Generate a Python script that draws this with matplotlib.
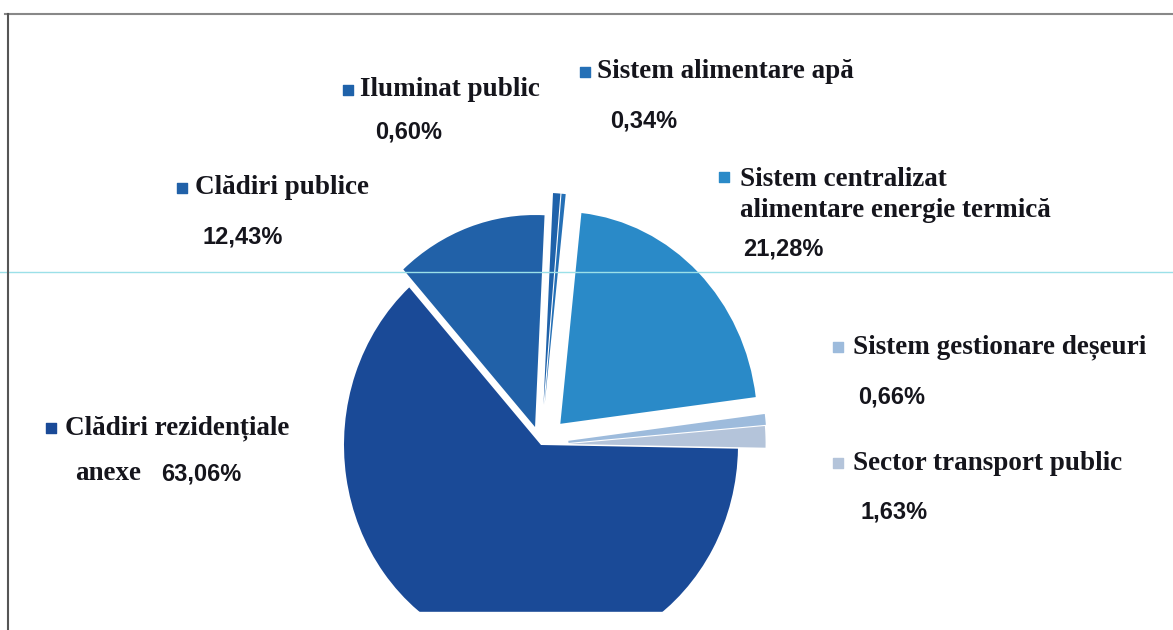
import matplotlib
matplotlib.use("Agg")
import matplotlib.pyplot as plt
from matplotlib.patches import Rectangle
from matplotlib.transforms import Affine2D

# slices in drawing order (counter-clockwise from 3 o'clock)
categories = ["Sector transport public", "Sistem gestionare deșeuri",
              "Sistem centralizat\nalimentare energie termică", "Sistem alimentare apă",
              "Iluminat public", "Clădiri publice", "Clădiri rezidențiale"]
values = [1.63, 0.66, 21.28, 0.34, 0.60, 12.43, 63.06]
colors = ["#b4c4da", "#9dbbdc", "#2a8ac8", "#2570b6", "#1f62aa", "#2161a8", "#1a4a97"]
explode = [0.14, 0.14, 0.14, 0.19, 0.19, 0.09, 0.0]

W, H = 1173, 630
fig = plt.figure(figsize=(W / 100, H / 100), dpi=100)
ax = fig.add_axes([0, 0, 1, 1])

wedges, _ = ax.pie(values, explode=explode, colors=colors, startangle=-1,
                   counterclock=True, radius=1, center=(0, 0),
                   wedgeprops=dict(linewidth=0))
# the scanned pie is a bit taller than wide
tr = Affine2D().scale(197, 212).translate(541, H - 445) + ax.transData
for w in wedges:
    w.set_transform(tr)
# close the hairline gap between the two thin slices on the right
wedges[1].set_edgecolor(colors[1])
wedges[1].set_linewidth(1.5)

ax.set_xlim(0, W)
ax.set_ylim(0, H)
ax.set_aspect("auto")
ax.axis("off")

# bottom of the pie is cut off in the original
ax.add_patch(Rectangle((9, 0), W, H - 612, color="white", zorder=5))

# label layout: (marker x, text x, y of name, x of pct, y of pct)
pos = [(838, 853, 463, 860, 512),
       (838, 853, 347, 858, 397),
       (724, 740, 195, 743, 249),
       (585, 597, 72, 610, 121),
       (348, 360, 90, 375, 132),
       (182, 195, 188, 203, 237),
       (51, 65, 428, 75, 474)]

txt = "#15151c"
for cat, v, c, p in zip(categories, values, colors, pos):
    mx, tx, ty, px, py = p
    first_y = ty - 18 if "\n" in cat else ty
    ax.scatter([mx], [H - first_y], marker="s", s=50, color=c, zorder=6)
    ax.text(tx, H - ty, cat, ha="left", va="center", fontsize=19.5,
            family="Liberation Serif", weight="bold", color=txt,
            linespacing=1.3, zorder=6)
    pct = f"{v:.2f}".replace(".", ",") + "%"
    if cat == "Clădiri rezidențiale":
        ax.text(px, H - py, "anexe", ha="left", va="center", fontsize=19.5,
                family="Liberation Serif", weight="bold", color=txt, zorder=6)
        px += 86
    ax.text(px, H - py, pct, ha="left", va="center", fontsize=17,
            family="Liberation Sans", weight="bold", color=txt, zorder=6)

# scan frame and stray line
ax.plot([5, W], [H - 14, H - 14], color="#888888", lw=1.5, zorder=7)
ax.plot([8, 8], [0, H - 14], color="#555555", lw=1.5, zorder=7)
ax.plot([0, W], [H - 272, H - 272], color="#9be0e8", lw=1, zorder=1)

fig.savefig("out.png", dpi=100)
